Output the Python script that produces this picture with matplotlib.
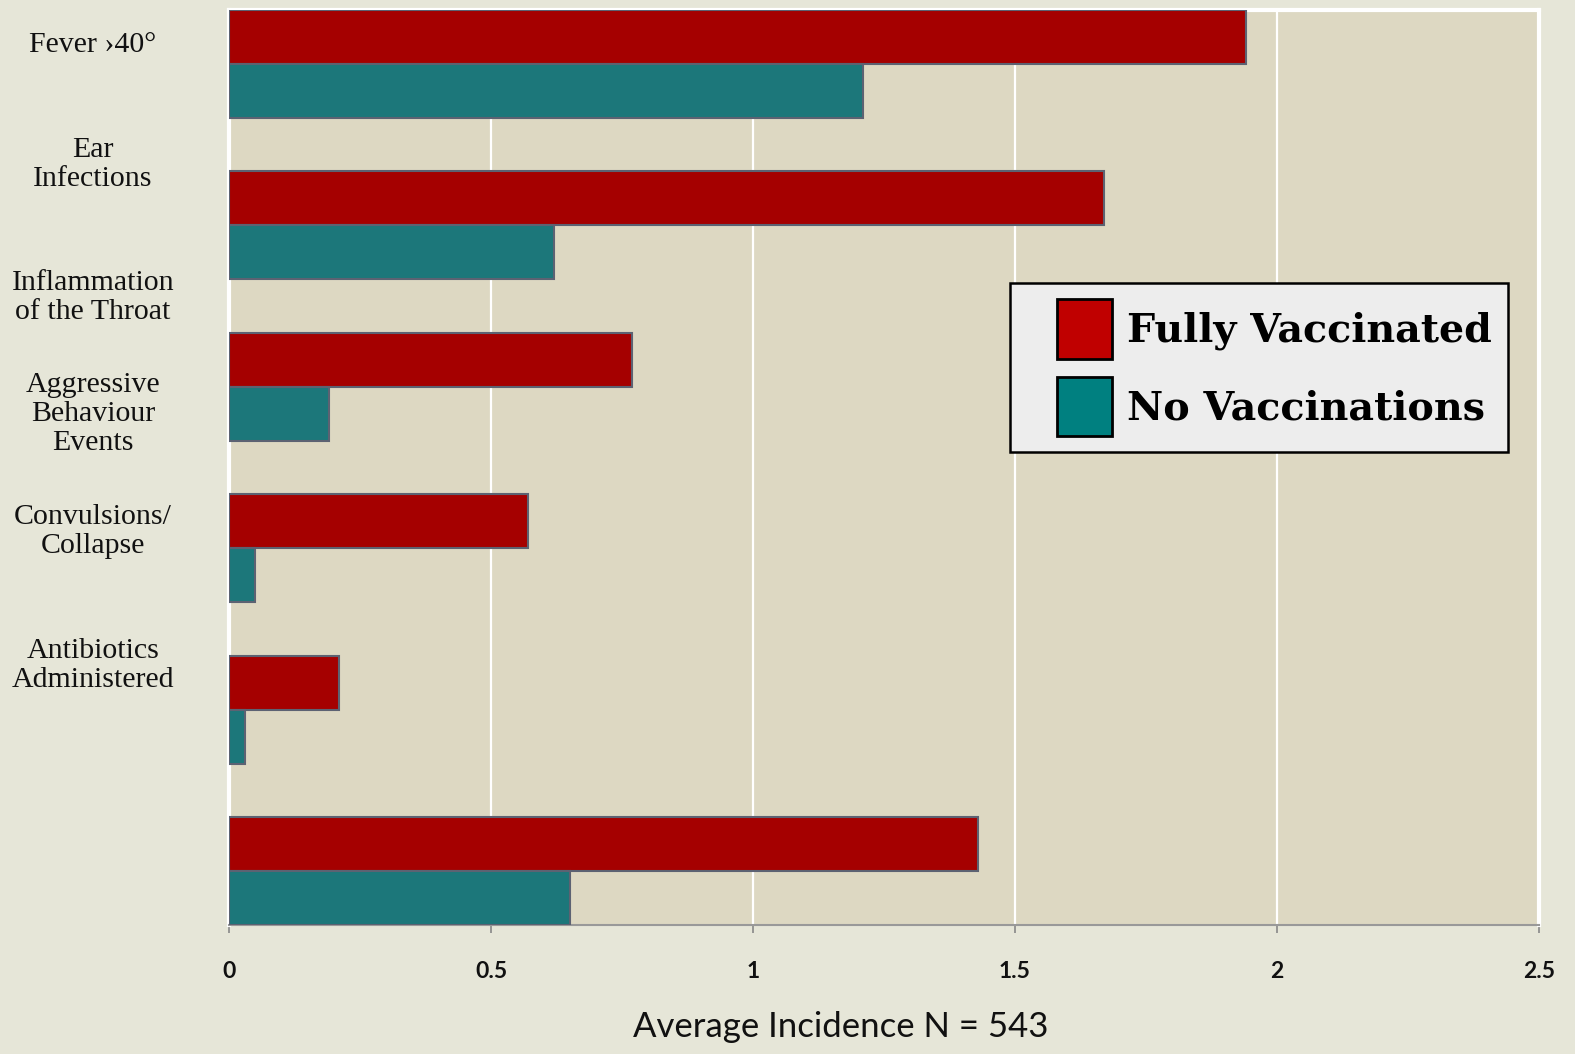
import numpy as np
import matplotlib
matplotlib.use("Agg")
import matplotlib.pyplot as plt
from matplotlib.patches import Patch, Rectangle
from matplotlib.legend_handler import HandlerPatch

# data
groups = ["Fever", "Ear", "Throat", "Aggressive", "Convulsions", "Antibiotics"]
fully_vacc = [1.94, 1.67, 0.77, 0.57, 0.21, 1.43]
no_vacc = [1.21, 0.62, 0.19, 0.05, 0.03, 0.65]
labels = ["Fever \u203a40\u00b0", "Ear\nInfections", "Inflammation\nof the Throat",
          "Aggressive\nBehaviour\nEvents", "Convulsions/\nCollapse",
          "Antibiotics\nAdministered"]
# labels in the original sit loosely next to the bars, not on group centers
label_pos = [-0.135, 0.596, 1.419, 2.14, 2.868, 3.70]
xticks = [0, 0.5, 1, 1.5, 2, 2.5]

fig_bg = "#e6e6d8"
ax_bg = "#ddd8c2"
red = "#a50000"
teal = "#1c777a"
edge = "#5c6272"

fig = plt.figure(figsize=(15.75, 10.54), dpi=100, facecolor=fig_bg)
ax = fig.add_axes([229/1575, 1-925/1054, (1539-229)/1575, (925-10)/1054])
ax.set_facecolor(ax_bg)

y = np.arange(len(groups))
h = 0.333
ax.barh(y - h/2, fully_vacc, height=h, color=red, edgecolor=edge, linewidth=1.5, zorder=3)
ax.barh(y + h/2, no_vacc, height=h, color=teal, edgecolor=edge, linewidth=1.5, zorder=3)

ax.set_xlim(0, 2.5)
ax.set_ylim(len(groups) - 1 + h, -h)
ax.set_xticks(xticks)
ax.set_xticklabels(["0", "0.5", "1", "1.5", "2", "2.5"], fontweight="bold", fontsize=16.5,
                   family=["Liberation Sans Narrow", "Lato", "DejaVu Sans"], color="#111111")
ax.grid(axis="x", color="white", linewidth=1.6, zorder=0)
ax.set_axisbelow(True)

ax.set_yticks(label_pos)
ax.set_yticklabels(labels, fontsize=21.5, family=["Liberation Serif", "DejaVu Serif"],
                   ha="center", multialignment="center", color="#111111", linespacing=1.15)
ax.tick_params(axis="y", length=0, pad=98)
ax.tick_params(axis="x", direction="out", length=6, color="#888888", width=1.2, pad=20)

for s in ["top", "left", "right"]:
    ax.spines[s].set_color("white")
    ax.spines[s].set_linewidth(3)
ax.spines["bottom"].set_color("#999999")
ax.spines["bottom"].set_linewidth(1.5)


# legend squares sit at the right of a wider handle box, leaving space on the left
def square(legend, orig_handle, xdescent, ydescent, width, height, fontsize):
    return Rectangle((-xdescent + width * 0.37, -ydescent), width * 0.63, height)


handles = [Patch(facecolor="#c00000", edgecolor="black", linewidth=2, label="Fully Vaccinated"),
           Patch(facecolor="#008080", edgecolor="black", linewidth=2, label="No Vaccinations")]
leg = ax.legend(handles=handles, loc="upper right", bbox_to_anchor=((1508-229)/1310, 1-(283-10)/915),
                prop={"family": ["DejaVu Serif"], "weight": "bold", "size": 28.5},
                handler_map={Patch: HandlerPatch(patch_func=square)},
                frameon=True, fancybox=False, shadow=False, handlelength=2.17, handleheight=1.95,
                borderpad=0.4, labelspacing=0.45, handletextpad=0.4, borderaxespad=0)
leg.get_frame().set_facecolor("#ededed")
leg.get_frame().set_edgecolor("black")
leg.get_frame().set_linewidth(1.8)
leg.get_frame().set_alpha(1)
leg.set_zorder(5)

fig.text(841/1575, 1-1027/1054, "Average Incidence N = 543", ha="center", va="center",
         fontsize=25, family=["Liberation Sans Narrow", "Lato", "DejaVu Sans"], color="#111111")

fig.savefig("out.png", dpi=100, facecolor=fig_bg)
